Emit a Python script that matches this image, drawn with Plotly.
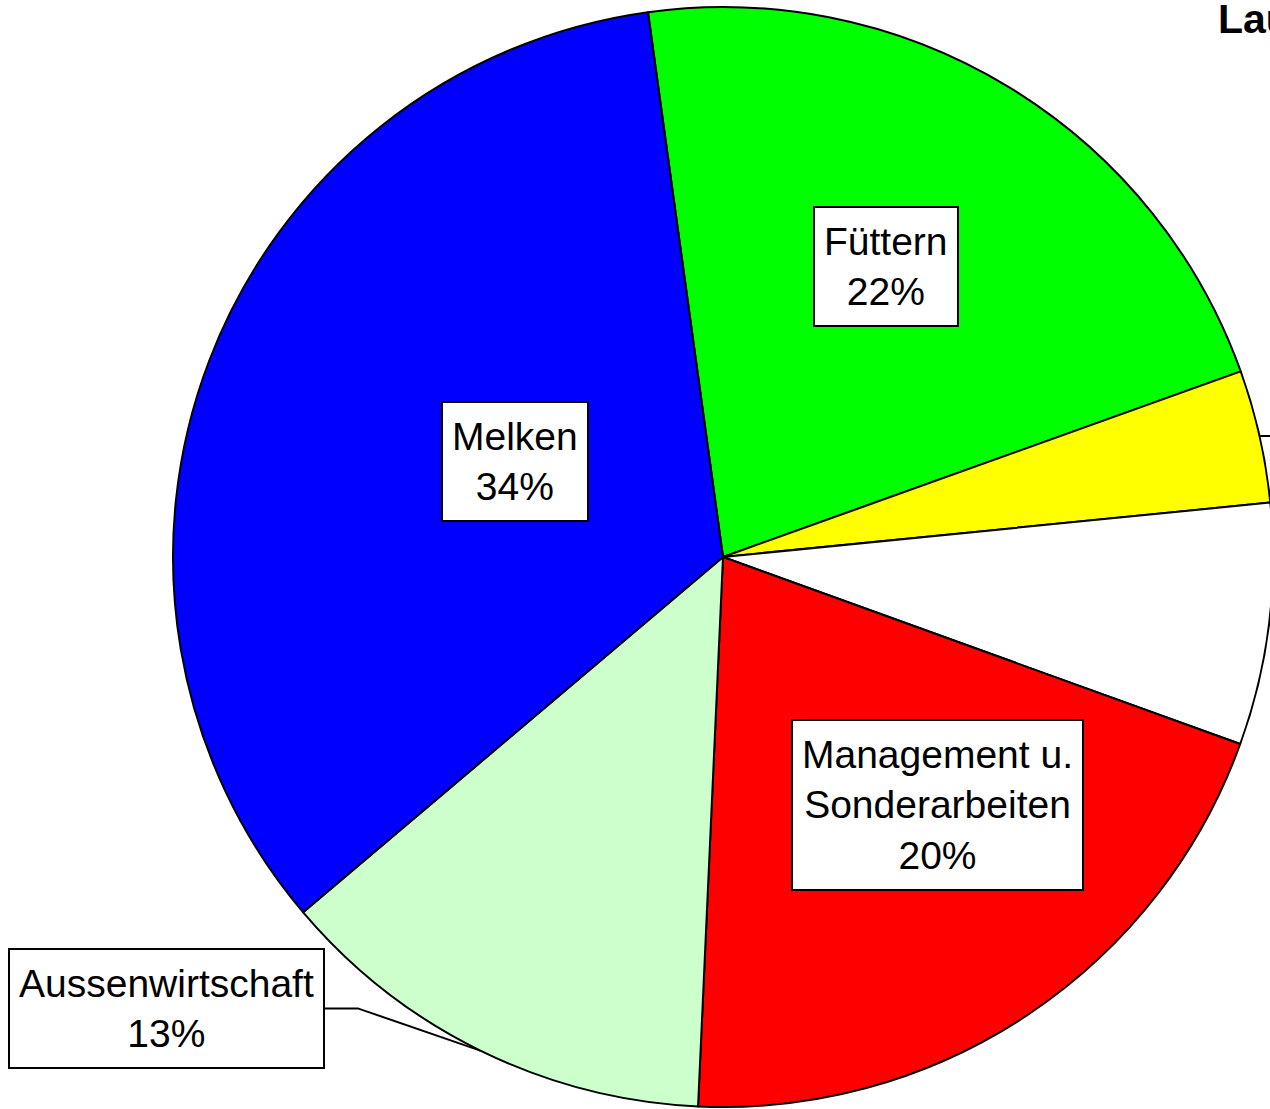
import math
import plotly.graph_objects as go

# ---------------- data ----------------
categories = ["Füttern", "Entmisten u. Einstreuen", "Kälber u. Jungvieh",
              "Management u. Sonderarbeiten", "Aussenwirtschaft", "Melken"]
display_labels = ["Füttern", "Entmisten u.<br>Einstreuen", "Kälber u.<br>Jungvieh",
                  "Management u.<br>Sonderarbeiten", "Aussenwirtschaft", "Melken"]
values = [21.7, 3.9, 7.1, 20.2, 13.1, 34.0]
title_text = "Laufstall"

# ---------------- style ----------------
colors = ["#00FF00", "#FFFF00", "#FFFFFF", "#FF0000", "#CCFFCC", "#0000FF"]
FONT = "Liberation Sans, Arial, Helvetica, sans-serif"
W, H = 1700, 1109
cx, cy, R = 723, 557, 550
rotation = -7.84

# label placement: ("in", radial fraction, angle offset) or ("out", elbow dx, elbow dy, stub, side)
placement = [
    ("in", 0.606, -1.85),
    ("out", 40, 0, 20, "right"),
    ("out", 40, 0, 20, "right"),
    ("in", 0.596, -7.0),
    ("out", -122.5, -42.2, 33, "left"),
    ("in", 0.416, 3.6),
]

total = sum(values)

fig = go.Figure()

# hidden pixel-space axes for leader lines and labels
fig.add_trace(go.Scatter(x=[None], y=[None], showlegend=False, hoverinfo="skip"))

fig.add_trace(go.Pie(
    labels=categories, values=values, sort=False, direction="clockwise",
    rotation=rotation, textinfo="none", hoverinfo="label+percent",
    marker=dict(colors=colors, line=dict(color="black", width=2)),
    domain=dict(x=[(cx - R) / W, (cx + R) / W], y=[(H - cy - R) / H, (H - cy + R) / H]),
    showlegend=False,
))

annotations = []
cum = rotation
for lab, v, pl in zip(display_labels, values, placement):
    span = v / total * 360
    mid = cum + span / 2
    cum += span
    pct = f"{round(v / total * 100)}%"
    text = f"{lab}<br>{pct}"
    nlines = text.count("<br>") + 1
    box_h = 51 * nlines - 3
    if pl[0] == "in":
        a = math.radians(mid + pl[2])
        x = cx + pl[1] * R * math.sin(a)
        y = cy - pl[1] * R * math.cos(a)
        annotations.append(dict(x=x, y=y, xref="x", yref="y", text=text, showarrow=False,
                                xanchor="center", yanchor="middle", height=box_h))
    else:
        a = math.radians(mid)
        ex = cx + R * math.sin(a)
        ey = cy - R * math.cos(a)
        bx, by = ex + pl[1], ey + pl[2]
        sgn = 1 if pl[4] == "right" else -1
        tx = bx + sgn * pl[3]
        fig.add_trace(go.Scatter(x=[ex, bx, tx], y=[ey, by, by], mode="lines",
                                 line=dict(color="black", width=2),
                                 showlegend=False, hoverinfo="skip"))
        annotations.append(dict(x=tx, y=by, xref="x", yref="y", text=text, showarrow=False,
                                xanchor="left" if sgn > 0 else "right", yanchor="middle",
                                height=box_h))

for an in annotations:
    an.update(font=dict(family=FONT, size=39, color="black"), bgcolor="white",
              bordercolor="black", borderwidth=2, borderpad=9, align="center",
              valign="middle")

annotations.append(dict(x=1216 / W, y=1 + 6 / H, xref="paper", yref="paper",
                        text=f"<b>{title_text}</b>",
                        showarrow=False, xanchor="left", yanchor="top",
                        font=dict(family=FONT, size=41, color="black")))

fig.update_layout(
    width=W, height=H,
    margin=dict(l=0, r=0, t=0, b=0, pad=0),
    paper_bgcolor="white", plot_bgcolor="rgba(0,0,0,0)",
    xaxis=dict(range=[0, W], visible=False, fixedrange=True, domain=[0, 1]),
    yaxis=dict(range=[H, 0], visible=False, fixedrange=True, domain=[0, 1]),
    annotations=annotations,
    showlegend=False,
)

fig.write_html("out.html",
               post_script="document.documentElement.style.overflow='hidden';"
                           "document.body.style.overflow='hidden';"
                           "document.body.style.margin='0';")
